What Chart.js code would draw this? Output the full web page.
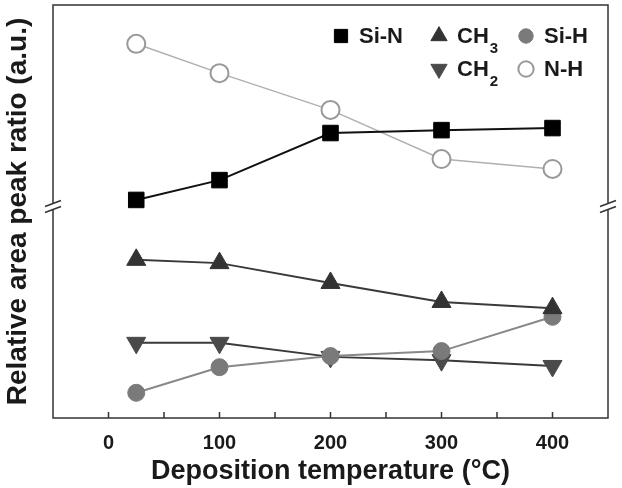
<!DOCTYPE html>
<html>
<head>
<meta charset="utf-8">
<script src="https://cdn.jsdelivr.net/npm/chart.js@4.4.1/dist/chart.umd.min.js"></script>
<style>
  html, body { margin: 0; padding: 0; background: #fff; }
  #wrap { width: 622px; height: 488px; }
</style>
</head>
<body>
<div id="wrap"><canvas id="myChart"></canvas></div>
<script>
// deposition temperature (°C)
const temps = [25, 100, 200, 300, 400];
// relative area peak ratio, arbitrary units
const siN = [52.8, 57.6, 69.0, 69.7, 70.2];
const ch3 = [38.3, 37.5, 32.7, 28.1, 26.6];
const siH = [6.1, 12.3, 15.0, 16.2, 24.5];
const ch2 = [18.2, 18.2, 14.8, 14.0, 12.6];
const nH = [90.6, 83.5, 74.6, 62.7, 60.3];
const xTicks = [0, 100, 200, 300, 400];

const FONT = "'Liberation Sans', Arial, sans-serif";
const pts = arr => temps.map((t, i) => ({x: t, y: arr[i]}));

// frame, inward ticks, axis breaks and the two-row legend
const decor = {
  id: 'decor',
  afterDatasetsDraw(chart) {
    const {ctx, chartArea: a, scales} = chart;
    ctx.save();
    ctx.strokeStyle = '#333';
    ctx.lineWidth = 1.5;
    ctx.strokeRect(a.left, a.top, a.right - a.left, a.bottom - a.top);

    // tick marks pointing up
    scales.x.ticks.forEach(t => {
      if (t.value <= -50 || t.value >= 450) return;
      const x = scales.x.getPixelForValue(t.value);
      ctx.beginPath();
      ctx.moveTo(x, a.bottom);
      ctx.lineTo(x, a.bottom - 6);
      ctx.stroke();
    });

    // break marks on both vertical borders
    const yb = scales.y.getPixelForValue(50.5);
    [a.left, a.right].forEach(x => {
      ctx.fillStyle = '#fff';
      ctx.beginPath();
      ctx.moveTo(x - 8, yb + 3);
      ctx.lineTo(x + 8, yb - 3);
      ctx.lineTo(x + 8, yb - 9);
      ctx.lineTo(x - 8, yb - 3);
      ctx.closePath();
      ctx.fill();
      ctx.lineWidth = 1.5;
      ctx.beginPath();
      ctx.moveTo(x - 8, yb + 3); ctx.lineTo(x + 8, yb - 3);
      ctx.moveTo(x - 8, yb - 3); ctx.lineTo(x + 8, yb - 9);
      ctx.stroke();
    });

    // legend
    const items = [
      {ds: 0, x: 341, y: 36, label: 'Si-N'},
      {ds: 1, x: 439, y: 36, label: 'CH', sub: '3'},
      {ds: 2, x: 526, y: 36, label: 'Si-H'},
      {ds: 3, x: 439, y: 69, label: 'CH', sub: '2'},
      {ds: 4, x: 526, y: 69, label: 'N-H'}
    ];
    items.forEach(it => {
      const d = chart.data.datasets[it.ds];
      ctx.fillStyle = d.pointBackgroundColor;
      ctx.strokeStyle = d.pointBorderColor;
      ctx.lineWidth = d.pointBorderWidth;
      Chart.helpers.drawPoint(ctx, {
        pointStyle: d.pointStyle,
        rotation: d.pointRotation || 0,
        radius: d.pointRadius * 0.85,
        borderWidth: d.pointBorderWidth
      }, it.x, it.y);
      ctx.fillStyle = '#1a1a1a';
      ctx.font = 'bold 22px ' + FONT;
      ctx.textBaseline = 'middle';
      ctx.textAlign = 'left';
      ctx.fillText(it.label, it.x + 18, it.y + 1);
      if (it.sub) {
        const w = ctx.measureText(it.label).width;
        ctx.font = 'bold 15px ' + FONT;
        ctx.fillText(it.sub, it.x + 18 + w + 1, it.y + 13);
      }
    });
    ctx.restore();
  }
};

new Chart(document.getElementById('myChart'), {
  type: 'line',
  data: {
    datasets: [
      {label: 'Si-N', data: pts(siN), borderColor: '#111', borderWidth: 2,
       pointStyle: 'rect', pointRadius: 11, pointBackgroundColor: '#000',
       pointBorderColor: '#000', pointBorderWidth: 1},
      {label: 'CH3', data: pts(ch3), borderColor: '#3a3a3a', borderWidth: 2,
       pointStyle: 'triangle', pointRadius: 11, pointBackgroundColor: '#333',
       pointBorderColor: '#333', pointBorderWidth: 1},
      {label: 'Si-H', data: pts(siH), borderColor: '#888', borderWidth: 2,
       pointStyle: 'circle', pointRadius: 8.5, pointBackgroundColor: '#7a7a7a',
       pointBorderColor: '#7a7a7a', pointBorderWidth: 1},
      {label: 'CH2', data: pts(ch2), borderColor: '#3a3a3a', borderWidth: 2,
       pointStyle: 'triangle', pointRotation: 180, pointRadius: 11,
       pointBackgroundColor: '#4a4a4a', pointBorderColor: '#4a4a4a', pointBorderWidth: 1},
      {label: 'N-H', data: pts(nH), borderColor: '#b0b0b0', borderWidth: 1.5,
       pointStyle: 'circle', pointRadius: 9, pointBackgroundColor: '#fff',
       pointBorderColor: '#999', pointBorderWidth: 2}
    ]
  },
  options: {
    responsive: true,
    maintainAspectRatio: false,
    animation: false,
    layout: {autoPadding: false, padding: {top: 5, right: 14, left: 0, bottom: 0}},
    plugins: {
      legend: {display: false},
      tooltip: {enabled: false}
    },
    scales: {
      x: {
        type: 'linear',
        min: -50, max: 450,
        grid: {display: false},
        border: {display: false},
        ticks: {
          stepSize: 50,
          padding: 5,
          color: '#1a1a1a',
          font: {family: FONT, size: 20, weight: 'bold'},
          maxRotation: 0,
          autoSkip: false,
          callback: v => xTicks.includes(v) ? v : ''
        },
        title: {
          display: true,
          text: 'Deposition temperature (°C)',
          color: '#1a1a1a',
          font: {family: FONT, size: 27, weight: 'bold'},
          padding: {top: 0, bottom: 0}
        },
        afterFit: s => { s.height = 70; }
      },
      y: {
        min: 0, max: 100,
        grid: {display: false},
        border: {display: false},
        ticks: {display: false},
        title: {
          display: true,
          text: 'Relative area peak ratio (a.u.)',
          color: '#1a1a1a',
          font: {family: FONT, size: 28, weight: 'bold'},
          padding: {top: 1, bottom: 0}
        },
        afterFit: s => { s.width = 53; }
      }
    }
  },
  plugins: [decor]
});
</script>
</body>
</html>
